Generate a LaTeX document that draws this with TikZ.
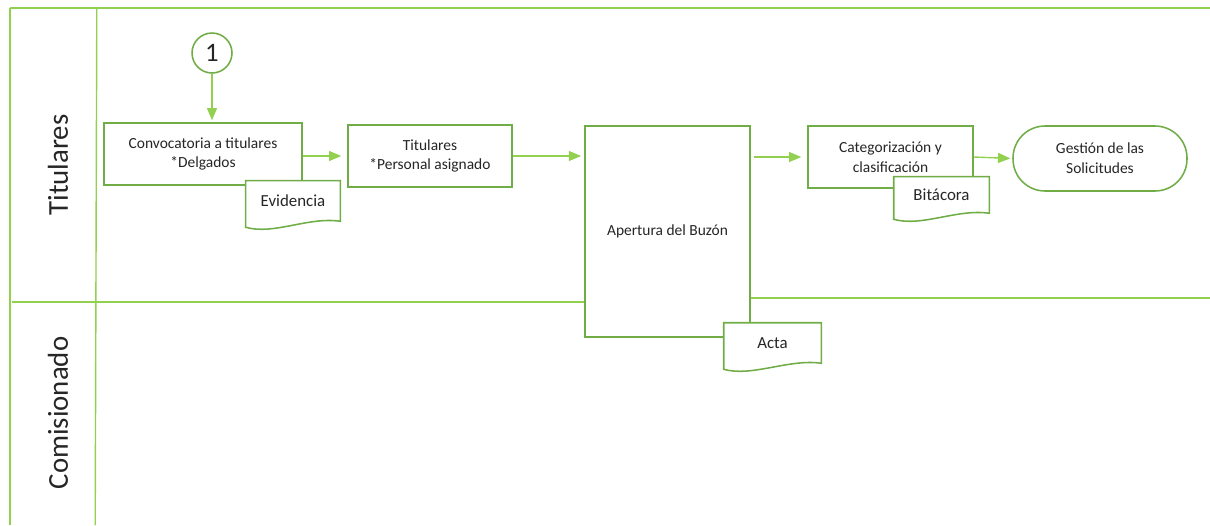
\documentclass[tikz,border=0pt]{standalone}
\usepackage{fontspec}
\setmainfont{Carlito}
\usetikzlibrary{arrows}
\usetikzlibrary{positioning}

\definecolor{boxgreen}{HTML}{70AD47}
\definecolor{lanegreen}{HTML}{92D050}

\tikzset{
    lane/.style = {line width = 1pt, lanegreen},
    lanelabel/.style = {rotate=90, font=\fontsize{20.5}{24}\selectfont, text=black!85},
    box/.style = {draw=boxgreen, line width = 1.1pt, fill=white, align=center,
        font=\fontsize{11}{14}\selectfont, text=black!85},
    docbox/.style = {fill=white, align=center, inner sep=0pt,
        font=\fontsize{12}{14}\selectfont, text=black!85},
    docline/.style = {draw=boxgreen, line width = 1.1pt},
    flow/.style = {line width = 1pt, lanegreen, -triangle 45, shorten >= 0.15cm},
}

% outline of a document symbol with a wavy bottom
\newcommand{\docwave}[1]{%
    \draw[docline] (#1.north west) -- (#1.north east) -- (#1.south east)
        .. controls ([xshift=-0.8cm,yshift=0.12cm]#1.south east)
        and ([xshift=0.7cm,yshift=-0.35cm]#1.south west)
        .. ([yshift=-0.15cm]#1.south west) -- cycle;}

\begin{document}
\begin{tikzpicture}
    \useasboundingbox (0,0) rectangle (30.25,-13.125);
    % pool frame and lanes
    \coordinate (tl) at (0.25,-0.2);
    \coordinate (tr) at (30.25,-0.2);
    \coordinate (bl) at (0.25,-13.125);
    \coordinate (ct) at (2.42,-0.2);
    \coordinate (cb) at (2.38,-13.125);
    \draw[lane] (tl) -- (tr);
    \draw[lane] (tl) -- (bl);
    \draw[lane] (ct) -- (cb);
    \node[lanelabel] (lt) at (1.45,-4.125) {Titulares};
    \node[lanelabel] (lc) at (1.45,-10.325) {Comisionado};
    % boxes
    \node[draw=boxgreen, line width = 1.1pt, circle, minimum size=1cm, inner sep=0pt,
        font=\fontsize{19}{20}\selectfont, text=black!85] (one) at (5.3,-1.325) {1};
    \node[box, minimum width=4.95cm, minimum height=1.55cm] (conv) at (5.075,-3.85)
        {Convocatoria a titulares\\*Delgados};
    \node[box, minimum width=4.1cm, minimum height=1.55cm] (tit) at (10.75,-3.9)
        {Titulares\\*Personal asignado};
    \node[box, minimum width=4.125cm, minimum height=5.275cm] (aper) at (16.6875,-5.7875)
        {Apertura del Buzón};
    \node[box, minimum width=4.125cm, minimum height=1.55cm] (cat) at (22.2625,-3.925)
        {Categorización y\\clasificación};
    \node[box, rounded corners=0.8cm, minimum width=4.35cm, minimum height=1.625cm] (gest)
        at (27.5,-3.9625) {Gestión de las\\Solicitudes};
    % lane separator, broken by the box
    \coordinate (sl) at (0.3,-7.55);
    \coordinate (sr) at (30.25,-7.45);
    \draw[lane] (sl) -- (sl -| aper.west);
    \draw[lane] (sr -| aper.east) -- (sr);
    % documents
    \node[docbox, minimum width=2.35cm, minimum height=1.0cm] (evid) at (7.325,-5.025) {Evidencia};
    \docwave{evid}
    \node[docbox, minimum width=2.425cm, minimum height=1.0cm] (acta) at (19.3125,-8.575) {Acta};
    \docwave{acta}
    \node[docbox, minimum width=2.375cm, minimum height=0.9cm] (bita) at (23.5375,-4.875) {Bitácora};
    \docwave{bita}
    % connectors
    \draw[flow, shorten >= 0.05cm] (one.south) -- (one.south |- conv.north);
    \draw[flow] (conv.east |- tit.west) -- (tit.west);
    \draw[flow, shorten >= 0.08cm] (tit.east) -- (tit.east -| aper.west);
    \draw[flow, shorten <= 0.08cm] (aper.east |- cat.west) -- (cat.west);
    \draw[flow, shorten >= 0.05cm] (cat.east) -- (gest.west);
\end{tikzpicture}
\end{document}
